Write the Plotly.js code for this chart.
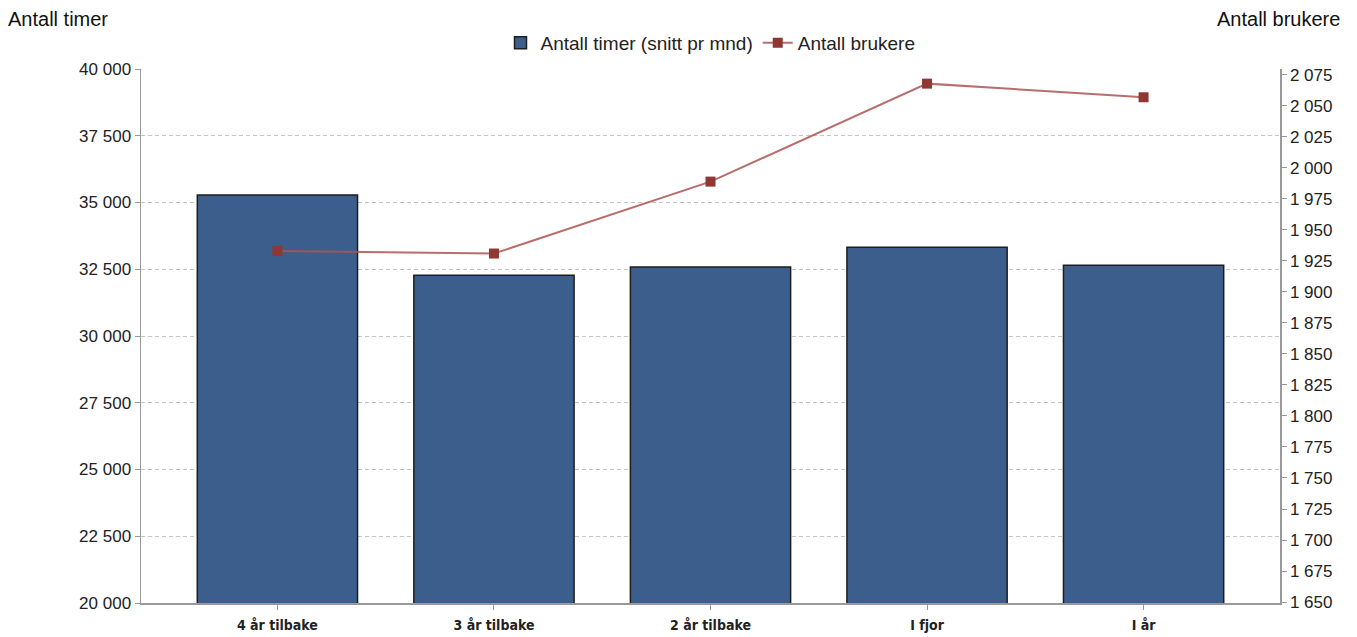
<!DOCTYPE html>
<html>
<head>
<meta charset="utf-8">
<script src="https://cdn.plot.ly/plotly-3.0.1.min.js"></script>
<style>html,body{margin:0;padding:0;background:#fff;}#chart{width:1357px;height:637px;}</style>
</head>
<body>
<div id="chart"></div>
<script>
const categories = ["4 år tilbake", "3 år tilbake", "2 år tilbake", "I fjor", "I år"];
const timer = [35280, 32275, 32585, 33320, 32650];
const brukere = [1933, 1931, 1989, 2068, 2057];
const seriesNames = ["Antall timer (snitt pr mnd)", "Antall brukere"];
const leftTitle = "Antall timer";
const rightTitle = "Antall brukere";

const traces = [
  {
    type: "bar",
    name: seriesNames[0],
    x: categories,
    y: timer,
    width: 0.74,
    marker: {color: "#3B5E8C", line: {color: "#1e1e1e", width: 1.5}},
    yaxis: "y"
  },
  {
    type: "scatter",
    mode: "lines+markers",
    name: seriesNames[1],
    x: categories,
    y: brukere,
    yaxis: "y2",
    line: {color: "rgba(170,85,82,0.85)", width: 2},
    marker: {symbol: "square", size: 10, color: "#8E3733"}
  }
];

const axisFont = {family: "Liberation Sans, Arial, sans-serif", size: 17, color: "#222"};

const layout = {
  width: 1357,
  height: 637,
  margin: {l: 141, r: 77, t: 69, b: 34, pad: 0},
  paper_bgcolor: "#fff",
  plot_bgcolor: "#fff",
  separators: ", ",
  showlegend: true,
  bargap: 0,
  legend: {
    orientation: "h",
    x: 0.5, xanchor: "center",
    y: 1.049, yanchor: "middle",
    yref: "paper",
    font: {family: "Liberation Sans, Arial, sans-serif", size: 19, color: "#222"},
    itemwidth: 30,
    traceorder: "normal"
  },
  xaxis: {
    type: "category",
    range: [-0.63, 4.63],
    showline: true,
    linecolor: "#999",
    linewidth: 1.5,
    ticks: "outside",
    ticklen: 5,
    tickcolor: "#999",
    showgrid: false,
    ticklabelstandoff: 4,
    tickfont: {family: "Liberation Sans Narrow, DejaVu Sans Condensed, sans-serif", size: 14, color: "#222", weight: "bold"},
    fixedrange: true
  },
  yaxis: {
    range: [20000, 40000],
    dtick: 2500,
    tick0: 20000,
    tickformat: ",d",
    showline: true,
    linecolor: "#999",
    linewidth: 1.5,
    ticks: "outside",
    ticklen: 5,
    tickcolor: "#999",
    showgrid: true,
    gridcolor: "#c4c4c4",
    griddash: "4px,3px",
    gridwidth: 1,
    zeroline: false,
    tickfont: axisFont
  },
  yaxis2: {
    overlaying: "y",
    side: "right",
    range: [1649.2, 2079.8],
    dtick: 25,
    tick0: 1650,
    tickformat: ",d",
    showline: true,
    linecolor: "#999",
    linewidth: 1.5,
    ticks: "outside",
    ticklen: 5,
    tickcolor: "#999",
    showgrid: false,
    zeroline: false,
    tickfont: axisFont
  },
  annotations: [
    {text: leftTitle, xref: "paper", yref: "paper", x: 0, y: 1, xshift: -135, yshift: 50, xanchor: "left", yanchor: "middle", showarrow: false,
     font: {family: "Liberation Sans, Arial, sans-serif", size: 20, color: "#111"}},
    {text: rightTitle, xref: "paper", yref: "paper", x: 1, y: 1, xshift: 62, yshift: 50, xanchor: "right", yanchor: "middle", showarrow: false,
     font: {family: "Liberation Sans, Arial, sans-serif", size: 20, color: "#111"}}
  ]
};

Plotly.newPlot("chart", traces, layout, {displayModeBar: false, staticPlot: true});
</script>
</body>
</html>
